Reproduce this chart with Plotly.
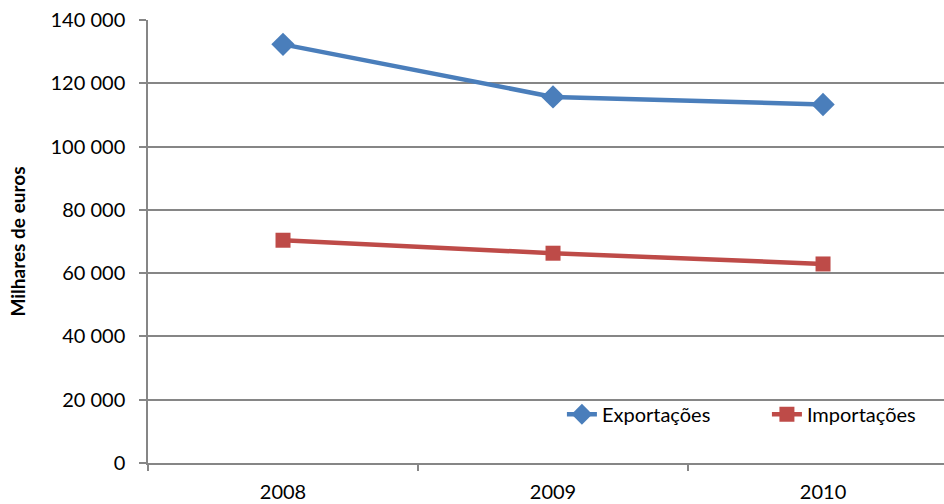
import plotly.graph_objects as go

years = ["2008", "2009", "2010"]
exportacoes = [132300, 115700, 113300]
importacoes = [70400, 66300, 62900]
y_ticks = [0, 20000, 40000, 60000, 80000, 100000, 120000, 140000]

BLUE = "#4a7ebb"
RED = "#be4b48"
GRID = "#868686"
FONT = "Lato, 'Open Sans', sans-serif"

fig = go.Figure()
fig.add_trace(go.Scatter(
    x=years, y=exportacoes, name="Exportações", mode="lines+markers",
    line=dict(color=BLUE, width=4.5),
    marker=dict(symbol="diamond", size=18, color=BLUE),
))
fig.add_trace(go.Scatter(
    x=years, y=importacoes, name="Importações", mode="lines+markers",
    line=dict(color=RED, width=4.5),
    marker=dict(symbol="square", size=15, color=RED),
))

fig.update_layout(
    width=944, height=504,
    margin=dict(l=148, r=0, t=20, b=41, autoexpand=False),
    paper_bgcolor="white", plot_bgcolor="white",
    separators=", ",
    font=dict(family=FONT, size=20, color="#000000"),
    showlegend=True,
    legend=dict(
        orientation="h", x=0.52, y=0.11, xanchor="left", yanchor="middle",
        bgcolor="rgba(0,0,0,0)", font=dict(size=20, family=FONT),
        entrywidth=160, entrywidthmode="pixels", tracegroupgap=0,
    ),
    xaxis=dict(
        type="category", range=[-0.5, 2.448],
        showgrid=False, showline=True, linecolor=GRID, linewidth=1.5,
        ticks="outside", tickson="boundaries", ticklen=6, tickcolor=GRID,
        tickwidth=1.5, ticklabelstandoff=10,
        tickfont=dict(size=20, family=FONT), zeroline=False,
    ),
    yaxis=dict(
        range=[0, 140000], tickvals=y_ticks, tickformat=",d",
        showgrid=True, gridcolor=GRID, gridwidth=1.5,
        showline=True, linecolor=GRID, linewidth=1.5,
        ticks="outside", ticklen=7, tickcolor=GRID, tickwidth=1.5,
        ticklabelstandoff=10, zeroline=False,
        tickfont=dict(size=20, family=FONT),
        title=dict(text="<b>Milhares de euros</b>", font=dict(size=19, family=FONT),
                   standoff=20),
    ),
)

fig.write_html("out.html")
